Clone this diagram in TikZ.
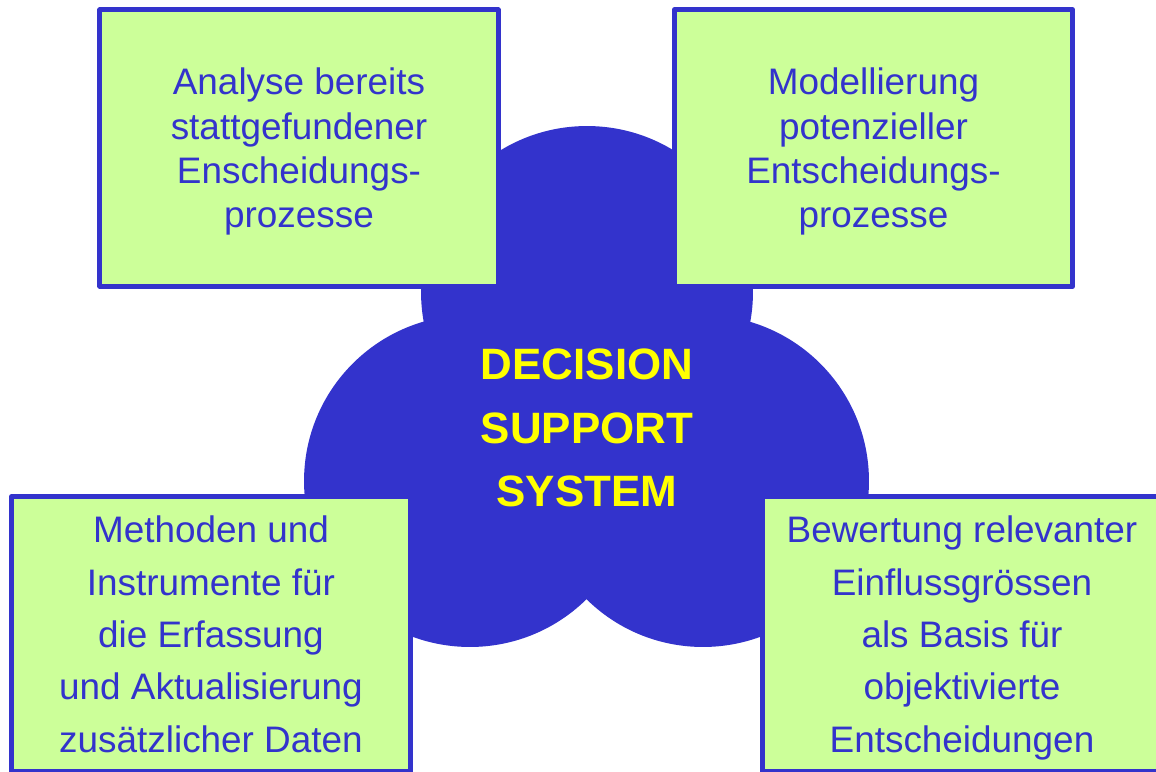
\documentclass[tikz,border=0pt]{standalone}
\usepackage{fontspec}
\setmainfont{Liberation Sans}
\usepackage{tikz}
\usetikzlibrary{positioning,calc}
\definecolor{dssblue}{RGB}{51,51,204}
\definecolor{dssgreen}{RGB}{204,255,153}
\definecolor{dssyellow}{RGB}{255,255,0}
\begin{document}
\begin{tikzpicture}[x=0.02cm,y=-0.02cm,line join=round,
  box/.style={draw=dssblue,fill=dssgreen,line width=2.8pt,text=dssblue,align=center,minimum width=7.97cm,text depth=0pt,inner sep=0pt},
  topbox/.style={box,minimum height=5.53cm,font=\fontsize{21pt}{25.2pt}\selectfont},
  lowbox/.style={box,minimum height=5.5cm,font=\fontsize{21pt}{29.8pt}\selectfont}]
\useasboundingbox (0,0) rectangle (1156,771);
\coordinate (T) at (587,292);
\coordinate (L) at (470,481);
\coordinate (R) at (703,481);
\fill[dssblue] (T) circle (3.32cm) (L) circle (3.32cm) (R) circle (3.32cm);
\node[topbox] (analyse)   at (299,148)   {Analyse bereits\\stattgefundener\\Enscheidungs-\\prozesse};
\node[topbox] (modell)    at (873.5,148) {Modellierung\\potenzieller\\Entscheidungs-\\prozesse};
\node[lowbox] (methoden)  at (211,634)   {Methoden und\\Instrumente f\"ur\\die Erfassung\\und Aktualisierung\\zus\"atzlicher Daten};
\node[lowbox] (bewertung) at (962,634)   {Bewertung relevanter\\Einflussgr\"ossen\\als Basis f\"ur\\objektivierte\\Entscheidungen};
\node[text=dssyellow,align=center,font=\fontsize{25pt}{36pt}\selectfont\bfseries] (dss) at (587,428) {DECISION\\SUPPORT\\SYSTEM};
\end{tikzpicture}
\end{document}
